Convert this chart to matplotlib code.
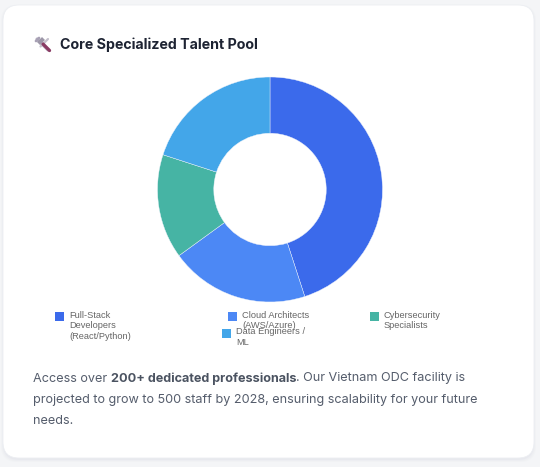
import matplotlib
matplotlib.use("Agg")
import matplotlib.pyplot as plt
from matplotlib.patches import FancyBboxPatch, Rectangle

# Chart data
categories = [
    "Full-Stack\nDevelopers\n(React/Python)",
    "Cloud Architects\n(AWS/Azure)",
    "Cybersecurity\nSpecialists",
    "Data Engineers /\nML",
]
shares = [45, 20, 15, 20]
colors = ["#3b6aeb", "#4c88f5", "#46b4a4", "#43a6e9"]

title = "Core Specialized Talent Pool"
para_lines = [
    [("Access over ", "normal"), ("200+ dedicated professionals", "bold"),
     (". Our Vietnam ODC facility is", "normal")],
    [("projected to grow to 500 staff by 2028, ensuring scalability for your future", "normal")],
    [("needs.", "normal")],
]

W, H = 540, 467
fig = plt.figure(figsize=(W / 100, H / 100), dpi=100)
fig.patch.set_facecolor("#f4f5f7")

# card with soft shadow
bg = fig.add_axes([0, 0, 1, 1])
bg.set_xlim(0, W)
bg.set_ylim(H, 0)
bg.axis("off")
for i, a in enumerate([0.05, 0.04, 0.03]):
    bg.add_patch(FancyBboxPatch((3 - i, 6 - i + 1), 531 + 2 * i, 453 + 2 * i,
                                boxstyle="round,pad=0,rounding_size=16",
                                fc="#9aa3b5", ec="none", alpha=a))
bg.add_patch(FancyBboxPatch((3, 5), 531, 453, boxstyle="round,pad=0,rounding_size=16",
                            fc="white", ec="#eceef2", lw=0.6))

# header icon (hammer & wrench emoji has no installed glyph, so draw it)
bg.plot([37, 48], [39, 50], color="#b9b3c4", lw=2.2, solid_capstyle="round")
bg.plot([36, 39], [41, 38], color="#a8a1b5", lw=2.0, solid_capstyle="round")
bg.plot([48, 40.5], [39, 46.5], color="#c4c0cc", lw=1.6, solid_capstyle="round")
bg.plot([43, 49.5], [44, 50.5], color="#8a3c64", lw=2.4, solid_capstyle="round")
bg.plot([38.5, 43.5], [43.5, 38.5], color="#9d97a8", lw=3.0, solid_capstyle="butt")

bg.text(60, 45, title, fontsize=10.25, fontweight="bold", va="center", ha="left",
        color="#1e2433", family="Inter")

# donut
cx, cy, r = 270, 189.5, 112.5
ax = fig.add_axes([(cx - r) / W, 1 - (cy + r) / H, 2 * r / W, 2 * r / H])
ax.pie(shares, colors=colors, startangle=90, counterclock=False, radius=1,
       wedgeprops=dict(width=0.5, edgecolor="#eef2fb", linewidth=0.3))
ax.set_xlim(-1, 1)
ax.set_ylim(-1, 1)
ax.set_aspect("equal")
ax.axis("off")

# legend (laid out like the original canvas legend)
leg_pos = [(55, 312), (228, 312), (370, 312), (222, 329)]
for (x, y), lab, col in zip(leg_pos, categories, colors):
    bg.add_patch(Rectangle((x, y), 8.5, 8.5, fc=col, ec="none"))
    bg.text(x + 14, y - 1.5, lab, fontsize=6.7, va="top", ha="left", color="#666666",
            family="Liberation Sans", linespacing=1.22)

# paragraph with bold run
renderer = fig.canvas.get_renderer()
y0 = 378.5
for li, line in enumerate(para_lines):
    x = 33
    for txt, wt in line:
        t = bg.text(x, y0 + li * 21, txt, fontsize=9.1, fontweight=wt, va="center",
                    ha="left", color="#555d6c" if wt == "normal" else "#4b5361",
                    family="Inter")
        bb = t.get_window_extent(renderer=renderer)
        x += bb.width

fig.savefig("out.png", dpi=100, facecolor=fig.get_facecolor())
